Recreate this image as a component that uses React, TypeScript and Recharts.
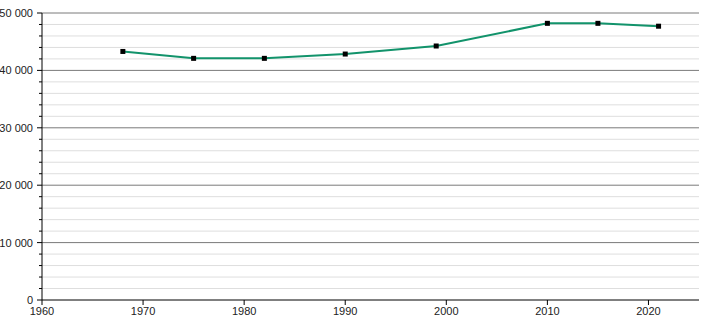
import React from 'react';
import { LineChart, Line, XAxis, YAxis, ReferenceLine } from 'recharts';

const years = [1968, 1975, 1982, 1990, 1999, 2010, 2015, 2021];
const population = [43300, 42100, 42100, 42850, 44250, 48200, 48200, 47700];
const xTicks = [1960, 1970, 1980, 1990, 2000, 2010, 2020];
const majorY = [10000, 20000, 30000, 40000, 50000];
const minorY = [2000, 4000, 6000, 8000, 12000, 14000, 16000, 18000, 22000, 24000, 26000, 28000, 32000, 34000, 36000, 38000, 42000, 44000, 46000, 48000];
const allYTicks = [0, ...minorY, ...majorY].sort((a, b) => a - b);

const data = years.map((y, i) => ({ year: y, value: population[i] }));

const fmt = (v: number) => (v === 0 ? '0' : v.toLocaleString('en-US').replace(/,/g, ' '));

const YTick = (props: any) => {
  const { y, payload } = props;
  const v = payload.value as number;
  const major = v % 10000 === 0;
  const ax = 42;
  return (
    <g>
      <line x1={ax - (major ? 5 : 3)} x2={ax} y1={y} y2={y} stroke="#000" strokeWidth={1} />
      {major && (
        <text x={ax - 9} y={y} dy={4} textAnchor="end" fontSize={11} fill="#222" fontFamily="Liberation Sans, Arial, sans-serif">
          {fmt(v)}
        </text>
      )}
    </g>
  );
};

const SquareDot = (props: any) => {
  const { cx, cy } = props;
  if (cx == null || cy == null) return null;
  return <rect x={cx - 2.5} y={cy - 2.5} width={5} height={5} fill="#000" />;
};

export default function App() {
  return (
    <div style={{ position: 'absolute', left: 0, top: 0, width: 710, height: 320, background: '#fff' }}>
      <LineChart width={710} height={320} data={data} margin={{ top: 13, right: 11, bottom: 0, left: 0 }}>
        {minorY.map((v) => (
          <ReferenceLine key={'m' + v} y={v} stroke="#dedede" strokeWidth={1} />
        ))}
        {majorY.map((v) => (
          <ReferenceLine key={'M' + v} y={v} stroke="#7a7a7a" strokeWidth={1} />
        ))}
        <XAxis
          dataKey="year"
          type="number"
          domain={[1960, 2025]}
          ticks={xTicks}
          height={20}
          tickSize={5}
          stroke="#000"
          axisLine={{ stroke: '#000' }}
          tickLine={{ stroke: '#000' }}
          tick={{ fontSize: 11, fill: '#222', fontFamily: 'Liberation Sans, Arial, sans-serif' }}
          interval={0}
        />
        <YAxis
          type="number"
          domain={[0, 50000]}
          ticks={allYTicks}
          width={42}
          interval={0}
          tickLine={false}
          axisLine={{ stroke: '#000' }}
          tick={<YTick />}
        />
        <Line
          type="linear"
          dataKey="value"
          stroke="#12936b"
          strokeWidth={2}
          dot={<SquareDot />}
          activeDot={false}
          isAnimationActive={false}
        />
      </LineChart>
    </div>
  );
}
